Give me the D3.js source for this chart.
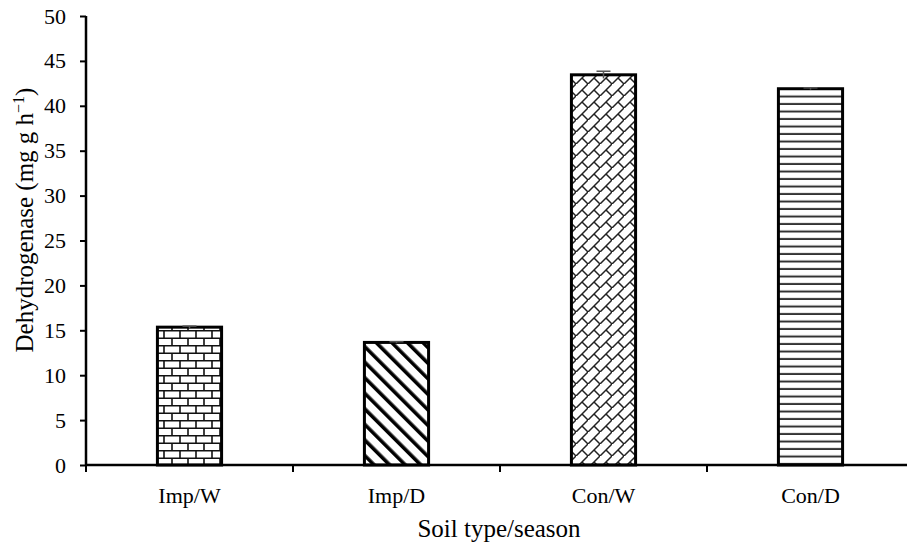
<!DOCTYPE html>
<html><head><meta charset="utf-8">
<script src="https://cdn.jsdelivr.net/npm/d3@7"></script>
<style>body{margin:0;background:#fff}svg{display:block}</style>
</head><body><svg id="c" width="907" height="546"></svg>
<script>
const categories = ["Imp/W", "Imp/D", "Con/W", "Con/D"];
const values = [15.35, 13.65, 43.45, 41.9];
const errors = [0.12, 0.08, 0.4, 0.1];
const patterns = ["brick", "diag", "dbrick", "hline"];
const yTicks = [0, 5, 10, 15, 20, 25, 30, 35, 40, 45, 50];

const svg = d3.select("#c");
const font = "'Liberation Serif','Times New Roman',serif";
const m = {left: 86, top: 16, bottom: 465, right: 914};

const defs = svg.append("defs");
// brick
let p = defs.append("pattern").attr("id", "brick").attr("patternUnits", "userSpaceOnUse").attr("width", 16).attr("height", 15);
p.append("rect").attr("width", 16).attr("height", 15).attr("fill", "#fff");
p.append("path").attr("d", "M0,0.75H16M0,8.25H16M4,0V7.5M12,7.5V15").attr("stroke", "#111").attr("stroke-width", 1.6);
// wide downward diagonal
p = defs.append("pattern").attr("id", "diag").attr("patternUnits", "userSpaceOnUse").attr("width", 11).attr("height", 11).attr("patternTransform", "rotate(-45)");
p.append("rect").attr("width", 11).attr("height", 11).attr("fill", "#fff");
p.append("rect").attr("x", 0).attr("y", 0).attr("width", 3.6).attr("height", 11).attr("fill", "#000");
// diagonal brick
p = defs.append("pattern").attr("id", "dbrick").attr("patternUnits", "userSpaceOnUse").attr("width", 12).attr("height", 12);
p.append("rect").attr("width", 12).attr("height", 12).attr("fill", "#fff");
p.append("path").attr("d", "M-1,13L13,-1M6,6L12,12M-1,-1L0,0").attr("stroke", "#222").attr("stroke-width", 1.5);
// horizontal lines
p = defs.append("pattern").attr("id", "hline").attr("patternUnits", "userSpaceOnUse").attr("width", 10).attr("height", 7.5);
p.append("rect").attr("width", 10).attr("height", 7.5).attr("fill", "#fff");
p.append("rect").attr("y", 5.5).attr("width", 10).attr("height", 2).attr("fill", "#333");

const x = d3.scaleBand().domain(categories).range([m.left, m.right]).paddingInner(0.69).paddingOuter(0.345);
const xt = d3.scaleBand().domain(categories).range([m.left, m.right]);
const y = d3.scaleLinear().domain([0, 50]).range([m.bottom, m.top]);

// bars
svg.selectAll(".bar").data(categories).join("rect")
  .attr("x", d => x(d)).attr("width", x.bandwidth())
  .attr("y", (d, i) => y(values[i])).attr("height", (d, i) => y(0) - y(values[i]))
  .attr("fill", (d, i) => `url(#${patterns[i]})`)
  .attr("stroke", "#000").attr("stroke-width", 3);

// error bars
categories.forEach((c, i) => {
  const cx = x(c) + x.bandwidth() / 2;
  const g = svg.append("g").attr("stroke", "#555").attr("stroke-width", 1.5);
  g.append("line").attr("x1", cx).attr("x2", cx).attr("y1", y(values[i] - errors[i])).attr("y2", y(values[i] + errors[i]));
  g.append("line").attr("x1", cx - 7).attr("x2", cx + 7).attr("y1", y(values[i] + errors[i])).attr("y2", y(values[i] + errors[i]));
});

// y axis
const ya = svg.append("g").attr("transform", `translate(${m.left},0)`)
  .call(d3.axisLeft(y).tickValues(yTicks).tickSize(6).tickPadding(14));
ya.select(".domain").attr("stroke", "#000").attr("stroke-width", 2.5).attr("d", `M0,${m.top}V${m.bottom}`);
ya.selectAll(".tick line").attr("stroke", "#000").attr("stroke-width", 2);
ya.selectAll("text").attr("font-family", font).attr("font-size", 22).attr("fill", "#000");

// x axis
const xa = svg.append("g").attr("transform", `translate(0,${m.bottom})`)
  .call(d3.axisBottom(xt).tickSize(0).tickPadding(22));
xa.select(".domain").attr("stroke", "#000").attr("stroke-width", 2.5).attr("d", `M${m.left},0H${m.right}`);
xa.selectAll("text").attr("font-family", font).attr("font-size", 22).attr("fill", "#000");
// x boundary ticks
const bounds = categories.map(c => xt(c));
svg.append("g").selectAll("line").data(bounds).join("line")
  .attr("x1", d => d).attr("x2", d => d).attr("y1", m.bottom).attr("y2", m.bottom + 7)
  .attr("stroke", "#000").attr("stroke-width", 2);

// axis titles
svg.append("text").attr("x", 499).attr("y", 537).attr("text-anchor", "middle")
  .attr("font-family", font).attr("font-size", 25).text("Soil type/season");
const yl = svg.append("text").attr("transform", "translate(33,220) rotate(-90)").attr("text-anchor", "middle")
  .attr("font-family", font).attr("font-size", 25);
yl.append("tspan").text("Dehydrogenase (mg g h");
yl.append("tspan").attr("dy", -9).attr("font-size", 16).text("−1");
yl.append("tspan").attr("dy", 9).text(")");
</script></body></html>
